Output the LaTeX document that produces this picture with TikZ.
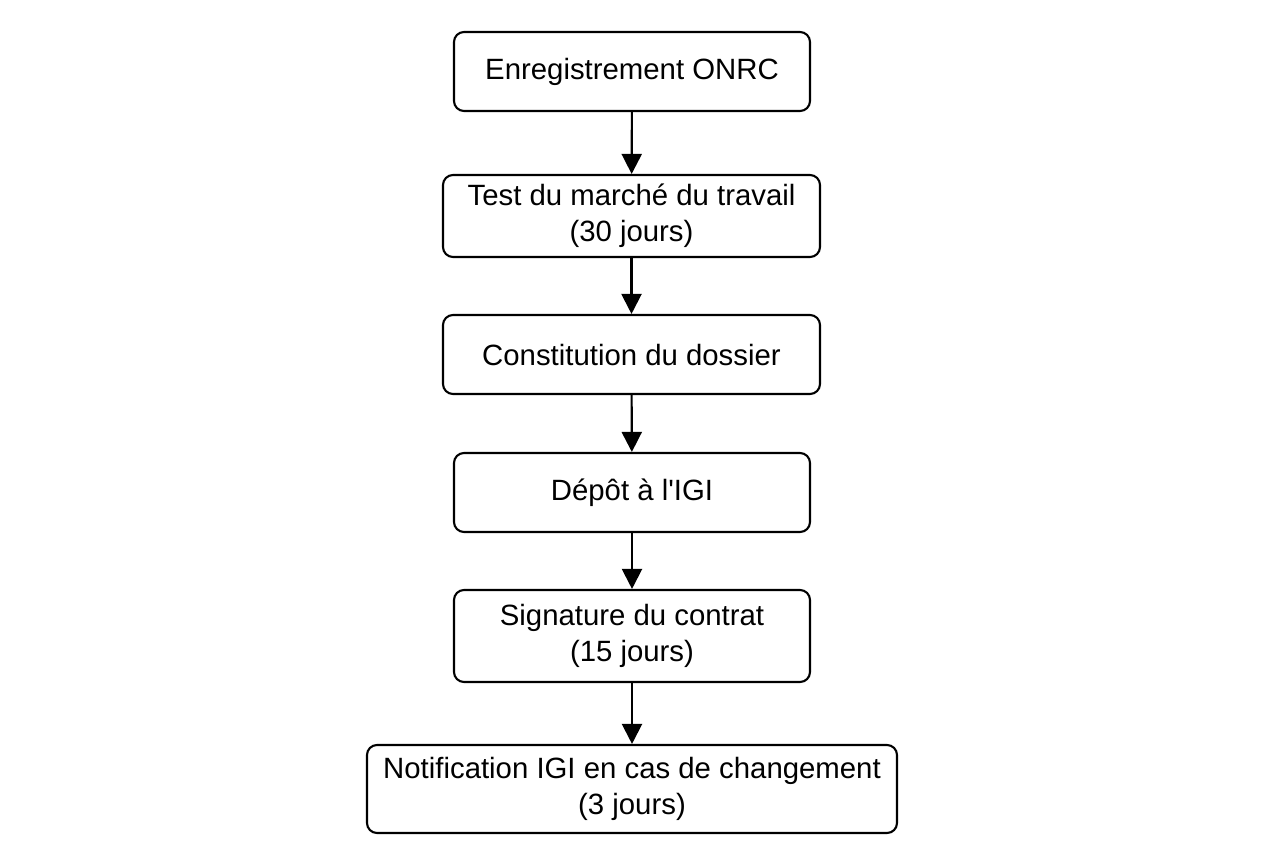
\documentclass[tikz,border=0pt]{standalone}
\usepackage{fontspec}
\setmainfont{Liberation Sans}
\usetikzlibrary{arrows.meta}

\begin{document}
\begin{tikzpicture}[
    box/.style={draw, line width=0.6pt, rounded corners=0.1cm, align=center,
      font=\fontsize{8.35}{10.2}\selectfont, inner sep=0pt},
    arrow/.style={-{Triangle[length=0.2cm, width=0.2cm]}, line width=0.6pt}
  ]
  \useasboundingbox (0,0) rectangle (12.64,-8.48);

  % Steps of the procedure
  \node[box, minimum width=3.56cm, minimum height=0.79cm] (onrc) at (6.32,-0.715) {Enregistrement ONRC};
  \node[box, minimum width=3.77cm, minimum height=0.82cm] (test) at (6.315,-2.16) {Test du marché du travail\\(30 jours)};
  \node[box, minimum width=3.77cm, minimum height=0.79cm] (dossier) at (6.315,-3.545) {Constitution du dossier};
  \node[box, minimum width=3.56cm, minimum height=0.79cm] (depot) at (6.32,-4.925) {Dépôt à l\textquotesingle IGI};
  \node[box, minimum width=3.56cm, minimum height=0.92cm] (contrat) at (6.32,-6.36) {Signature du contrat\\(15 jours)};
  \node[box, minimum width=5.30cm, minimum height=0.88cm] (notif) at (6.32,-7.89) {Notification IGI en cas de changement\\(3 jours)};

  % Arrows between the steps
  \draw[arrow] (onrc) -- (test);
  \draw[arrow] (test) -- (dossier);
  \draw[arrow] (dossier) -- (depot);
  \draw[arrow] (depot) -- (contrat);
  \draw[arrow] (contrat) -- (notif);

\end{tikzpicture}
\end{document}
